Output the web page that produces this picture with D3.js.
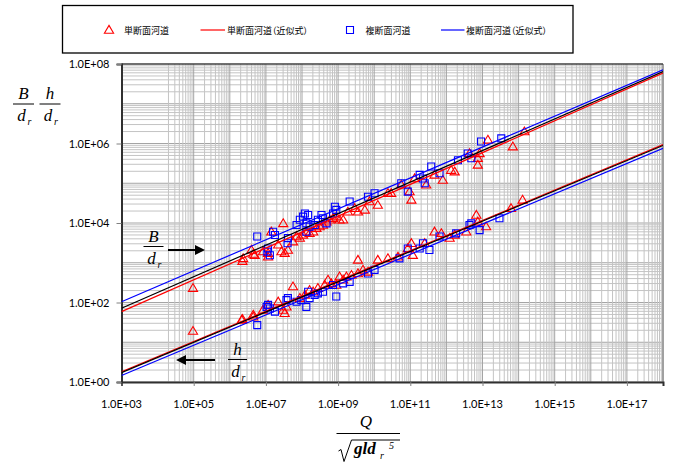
<!DOCTYPE html>
<html>
<head>
<meta charset="utf-8">
<script src="https://cdn.jsdelivr.net/npm/d3@7"></script>
<style>
  body { margin: 0; background: #fff; }
  svg { display: block; }
  .tick-label { font-family: Lato, "Liberation Sans", sans-serif; font-size: 11px; fill: #000; }
  .legend-text { font-family: "Noto Sans CJK JP", sans-serif; font-size: 9px; fill: #000; font-feature-settings: "palt"; }
  .math { font-family: "Liberation Serif", "DejaVu Serif", serif; font-style: italic; fill: #000; }
</style>
</head>
<body>
<script>
// values, as log10 of each axis value: [log10 Q*, log10 ratio]
// 単断面河道, B/dr
const singleB = [
  [4.98, 2.36], [6.35, 3.04], [6.37, 3.11], [6.60, 3.32], [6.65, 3.22], [6.69, 3.19],
  [6.92, 3.28], [7.06, 3.24], [7.06, 3.15], [7.15, 3.78], [7.34, 3.45], [7.43, 3.28],
  [7.48, 3.99], [7.52, 3.24], [7.61, 3.32], [7.75, 3.53], [7.85, 3.66], [7.94, 3.62],
  [8.03, 3.70], [8.12, 3.78], [8.21, 3.74], [8.31, 3.78], [8.40, 3.87], [8.49, 3.91],
  [8.58, 3.95], [8.68, 4.03], [8.77, 4.08], [8.86, 4.12], [8.95, 4.16], [9.04, 4.08],
  [9.14, 4.08], [9.27, 4.28], [9.46, 4.37], [9.55, 4.28], [9.74, 4.33], [9.87, 4.54],
  [10.10, 4.45], [10.38, 4.75], [10.47, 4.75], [10.75, 4.96], [11.03, 4.58], [10.98, 4.79],
  [11.12, 5.12], [11.44, 4.96], [11.67, 5.21], [11.90, 5.08], [12.13, 5.33], [12.23, 5.29],
  [12.64, 5.75], [12.87, 5.46], [12.87, 5.63], [12.92, 5.75], [13.15, 6.09], [13.84, 5.92],
  [14.16, 6.30]
];
// 複断面河道, B/dr
const compoundB = [
  [6.76, 3.66], [7.04, 3.28], [7.06, 3.36], [7.11, 3.19], [7.20, 3.78], [7.25, 3.70],
  [7.60, 3.49], [7.61, 3.62], [7.85, 3.95], [7.94, 4.08], [8.03, 4.16], [8.08, 4.24],
  [8.12, 3.99], [8.12, 3.78], [8.17, 4.20], [8.21, 3.91], [8.35, 3.95], [8.44, 4.08],
  [8.54, 4.20], [8.58, 4.12], [8.68, 3.99], [8.86, 4.24], [8.91, 4.41], [8.95, 4.33],
  [9.32, 4.54], [9.83, 4.66], [10.01, 4.75], [10.75, 5.00], [10.93, 4.79], [11.26, 5.21],
  [11.35, 5.12], [11.40, 5.00], [11.58, 5.42], [11.81, 5.25], [12.32, 5.58], [12.59, 5.75],
  [12.69, 5.63], [12.96, 6.05], [13.52, 6.13]
];
// 単断面河道, h/dr
const singleH = [
  [4.98, 1.28], [6.33, 1.56], [6.35, 1.58], [6.65, 1.69], [6.65, 1.64], [6.92, 1.81],
  [7.06, 1.94], [7.34, 2.02], [7.48, 1.81], [7.52, 1.73], [7.57, 1.89], [7.75, 2.40],
  [7.94, 2.11], [8.08, 2.19], [8.21, 2.31], [8.31, 2.27], [8.44, 2.36], [8.63, 2.44],
  [8.72, 2.57], [8.81, 2.48], [8.95, 2.44], [9.04, 2.65], [9.14, 2.57], [9.23, 2.65],
  [9.37, 2.69], [9.55, 2.73], [9.69, 2.82], [9.83, 2.77], [9.55, 3.07], [10.10, 3.07],
  [10.38, 3.11], [10.66, 3.15], [10.93, 3.36], [11.03, 3.49], [11.07, 3.19], [11.40, 3.49],
  [11.67, 3.78], [11.86, 3.74], [12.09, 3.62], [12.23, 3.70], [12.55, 3.78], [12.83, 4.20],
  [12.87, 4.03], [13.10, 3.91], [13.79, 4.37], [14.11, 4.58]
];
// 複断面河道, h/dr
const compoundH = [
  [6.76, 1.43], [7.02, 1.89], [7.06, 1.94], [7.11, 1.85], [7.25, 1.77], [7.57, 2.06],
  [7.61, 2.11], [7.85, 2.02], [7.98, 2.06], [8.12, 1.89], [8.17, 2.27], [8.21, 2.11],
  [8.35, 2.19], [8.44, 2.23], [8.58, 2.27], [8.86, 2.44], [8.95, 2.15], [9.14, 2.48],
  [9.32, 2.52], [9.83, 2.73], [10.01, 2.82], [10.70, 3.11], [10.93, 3.36], [11.26, 3.36],
  [11.35, 3.49], [11.53, 3.32], [11.81, 3.66], [12.27, 3.74], [12.64, 3.95], [12.69, 3.99],
  [12.92, 3.82], [13.47, 4.12]
];

// power-law fits y = a * X^b (black = all data)
const fitGroup = ['B', 'B', 'B', 'h', 'h', 'h'];
const fitKind = ['single', 'compound', 'all', 'single', 'compound', 'all'];
const fitCoef = [3.72, 7.14, 4.6, 0.130, 0.105, 0.124];
const fitExp = [0.400, 0.389, 0.397, 0.381, 0.381, 0.381];

const xTickValues = [1e3, 1e5, 1e7, 1e9, 1e11, 1e13, 1e15, 1e17];
const yTickValues = [1e0, 1e2, 1e4, 1e6, 1e8];
const legendLabels = ['単断面河道', '単断面河道（近似式）', '複断面河道', '複断面河道（近似式）'];

const colors = { single: '#ff0000', compound: '#0000ff', all: '#000000' };

const W = 696, H = 468;
const svg = d3.select(document.body).append('svg').attr('width', W).attr('height', H);

const x = d3.scaleLog().domain([1e3, 1e18]).range([121.5, 663]);
const y = d3.scaleLog().domain([1, 1e8]).range([382, 64]);
const [x0, x1] = x.range();
const [y0, y1] = y.range();

svg.append('defs').append('clipPath').attr('id', 'plot')
  .append('rect').attr('x', x0).attr('y', y1).attr('width', x1 - x0).attr('height', y0 - y1);

// grid
const grid = svg.append('g');
const yGrid = [];
for (let n = 0; n < 8; n++) for (let k = 1; k <= 9; k++) yGrid.push({ v: k * 10 ** n, major: k === 1 });
const xGrid = [];
for (let n = 4; n < 18; n++) for (let k = 1; k <= 9; k++) {
  if (n === 4 && k === 1) continue;
  xGrid.push({ v: k * 10 ** n, major: k === 1 });
}
grid.selectAll('.gy').data(yGrid).enter().append('line')
  .attr('x1', x0).attr('x2', x1)
  .attr('y1', d => y(d.v)).attr('y2', d => y(d.v))
  .attr('stroke', d => d.major ? '#a4a4a4' : '#c4c4c4').attr('stroke-width', 1);
grid.selectAll('.gx').data(xGrid).enter().append('line')
  .attr('y1', y1).attr('y2', y0)
  .attr('x1', d => x(d.v)).attr('x2', d => x(d.v))
  .attr('stroke', d => d.major ? '#a4a4a4' : '#c4c4c4').attr('stroke-width', 1);

// frame
svg.append('line').attr('x1', x1).attr('x2', x1).attr('y1', y1).attr('y2', y0)
  .attr('stroke', '#a0a0a0').attr('stroke-width', 2);
svg.append('line').attr('x1', x0).attr('x2', x1).attr('y1', y1).attr('y2', y1)
  .attr('stroke', '#404040').attr('stroke-width', 1.5);

// axes
const xAxis = d3.axisBottom(x).tickValues(xTickValues).tickSize(4).tickFormat('');
const yAxis = d3.axisLeft(y).tickValues(yTickValues).tickSize(5).tickFormat('');
const gx = svg.append('g').attr('transform', `translate(0,${y0})`).call(xAxis);
const gy = svg.append('g').attr('transform', `translate(${x0},0)`).call(yAxis);
[gx, gy].forEach(g => {
  g.select('.domain').attr('stroke', '#303030').attr('stroke-width', 2);
  g.selectAll('.tick line').attr('stroke', '#808080');
});

const expFmt = v => {
  const e = Math.round(Math.log10(v));
  return '1.0E+' + String(e).padStart(2, '0');
};
svg.selectAll('.xl').data(xTickValues).enter().append('text')
  .attr('class', 'tick-label').attr('text-anchor', 'middle')
  .attr('x', d => x(d)).attr('y', 408).text(expFmt);
svg.selectAll('.yl').data(yTickValues).enter().append('text')
  .attr('class', 'tick-label').attr('text-anchor', 'end')
  .attr('x', 109.5).attr('y', d => y(d) + 4).text(expFmt);

// markers
const tri = 'M0,-4.6L4.6,3.2L-4.6,3.2Z';
const sq = 'M-3.5,-3.5H3.5V3.5H-3.5Z';
const marks = svg.append('g');
function drawMarks(data, path, color) {
  marks.selectAll(null).data(data).enter().append('path')
    .attr('d', path)
    .attr('transform', d => `translate(${x(10 ** d[0])},${y(10 ** d[1])})`)
    .attr('fill', 'none').attr('stroke', color).attr('stroke-width', 1.1);
}
drawMarks(singleB, tri, colors.single);
drawMarks(singleH, tri, colors.single);
drawMarks(compoundB, sq, colors.compound);
drawMarks(compoundH, sq, colors.compound);

// fit lines
const fits = fitCoef.map((a, i) => ({ a, b: fitExp[i], kind: fitKind[i], group: fitGroup[i] }));
const line = d3.line().x(d => x(d[0])).y(d => y(d[1]));
svg.append('g').attr('clip-path', 'url(#plot)')
  .selectAll('path').data(fits).enter().append('path')
  .attr('d', f => line(x.domain().map(q => [q, f.a * q ** f.b])))
  .attr('fill', 'none').attr('stroke', f => colors[f.kind]).attr('stroke-width', 1.2);

// math labels
function frac(cx, barY, barW, num, sub) {
  const g = svg.append('g');
  g.append('line').attr('x1', cx - barW / 2).attr('x2', cx + barW / 2)
    .attr('y1', barY).attr('y2', barY).attr('stroke', '#000').attr('stroke-width', 1);
  g.append('text').attr('class', 'math').attr('font-size', 17).attr('text-anchor', 'middle')
    .attr('x', cx).attr('y', barY - 5).text(num);
  g.append('text').attr('class', 'math').attr('font-size', 17).attr('text-anchor', 'middle')
    .attr('x', cx - 2).attr('y', barY + 17).text('d');
  g.append('text').attr('class', 'math').attr('font-size', 10)
    .attr('x', cx + 4).attr('y', barY + 21).text(sub);
}
frac(23.5, 104, 21, 'B', 'r');
frac(50, 104, 21, 'h', 'r');
frac(153.5, 246.5, 20, 'B', 'r');
frac(237.5, 359.5, 19, 'h', 'r');

// arrows
function arrow(xa, xb, yy) {
  const dir = Math.sign(xb - xa);
  svg.append('line').attr('x1', xa).attr('x2', xb - dir * 8).attr('y1', yy).attr('y2', yy)
    .attr('stroke', '#000').attr('stroke-width', 2);
  svg.append('path')
    .attr('d', `M${xb},${yy}L${xb - dir * 10},${yy - 5}L${xb - dir * 10},${yy + 5}Z`)
    .attr('fill', '#000');
}
arrow(168, 205, 250);
arrow(215, 176, 360);

// x title
svg.append('text').attr('class', 'math').attr('font-size', 17).attr('text-anchor', 'middle')
  .attr('x', 366).attr('y', 427).text('Q');
svg.append('line').attr('x1', 336.5).attr('x2', 400).attr('y1', 433.5).attr('y2', 433.5)
  .attr('stroke', '#000').attr('stroke-width', 1);
svg.append('path').attr('d', 'M338.5,451L341,449.5L344,461.5L351.5,440H400')
  .attr('fill', 'none').attr('stroke', '#000').attr('stroke-width', 1);
svg.append('text').attr('class', 'math').attr('font-size', 17).attr('font-weight', 'bold')
  .attr('x', 354).attr('y', 454).text('gld');
svg.append('text').attr('class', 'math').attr('font-size', 10)
  .attr('x', 380).attr('y', 459).text('r');
svg.append('text').attr('class', 'math').attr('font-size', 10).attr('font-style', 'normal')
  .attr('x', 389).attr('y', 449).text('5');

// legend
const lg = svg.append('g');
lg.append('rect').attr('x', 62.5).attr('y', 5.5).attr('width', 510.5).attr('height', 47.5)
  .attr('fill', '#fff').attr('stroke', '#000').attr('stroke-width', 1.3);
const ly = 30;
lg.append('path').attr('d', tri).attr('transform', `translate(109,${ly})`)
  .attr('fill', 'none').attr('stroke', colors.single).attr('stroke-width', 1.1);
lg.append('line').attr('x1', 200.5).attr('x2', 225).attr('y1', ly).attr('y2', ly)
  .attr('stroke', colors.single).attr('stroke-width', 1.2);
lg.append('path').attr('d', sq).attr('transform', `translate(350,${ly})`)
  .attr('fill', 'none').attr('stroke', colors.compound).attr('stroke-width', 1.1);
lg.append('line').attr('x1', 441).attr('x2', 464.5).attr('y1', ly).attr('y2', ly)
  .attr('stroke', colors.compound).attr('stroke-width', 1.2);
const legendX = [124, 227, 365.5, 466];
lg.selectAll('.lt').data(legendLabels).enter().append('text')
  .attr('class', 'legend-text').attr('x', (d, i) => legendX[i]).attr('y', ly + 3.5).text(d => d);
</script>
</body>
</html>
